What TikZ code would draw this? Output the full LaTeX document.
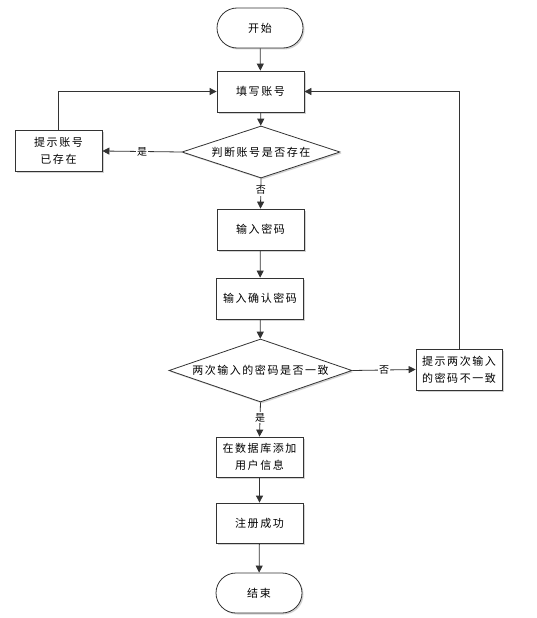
\documentclass[tikz,border=0pt]{standalone}
\usepackage{fontspec}
\newfontfamily\cjk[LetterSpace=14]{Noto Sans CJK SC}
\usetikzlibrary{shapes.geometric,arrows.meta,shadows}
\definecolor{ln}{HTML}{333333}
\tikzset{
  every node/.style={font=\cjk\fontsize{11pt}{17pt}\selectfont, text=black},
  base/.style={draw=ln, line width=0.8pt, fill=white, inner sep=0pt,
    drop shadow={shadow xshift=1.5pt, shadow yshift=-1.5pt, fill=gray!35, opacity=1}},
  procbox/.style={base, rectangle, minimum width=87pt, minimum height=41pt, align=center},
  termbox/.style={base, rectangle, rounded corners=20pt, minimum width=86pt, minimum height=40pt},
  decbox/.style={base, diamond, aspect=3},
  conn/.style={draw=ln, line width=0.8pt, -{Triangle[width=7pt,length=7pt]}},
  lbl/.style={fill=white, inner sep=1pt, font=\cjk\fontsize{10pt}{11pt}\selectfont}
}
\begin{document}
\begin{tikzpicture}[x=1pt,y=-1pt]
\useasboundingbox (0,0) rectangle (537,618);
\node[termbox] (start) at (260,28) {开始};
\node[procbox] (fill) at (260.5,91.5) {填写账号};
\node[decbox, minimum width=158pt, minimum height=52pt] (d1) at (261,152) {判断账号是否存在};
\node[procbox] (tip1) at (58.5,151) {提示账号\\已存在};
\node[procbox] (pwd) at (260.5,229.5) {输入密码};
\node[procbox] (conf) at (260,298.5) {输入确认密码};
\node[decbox, minimum width=183pt, minimum height=63pt] (d2) at (260.5,370.5) {两次输入的密码是否一致};
\node[procbox, minimum width=86pt] (tip2) at (459,369.5) {提示两次输入\\的密码不一致};
\node[procbox, minimum height=40pt] (db) at (259.5,457) {在数据库添加\\用户信息};
\node[procbox, minimum height=40pt] (ok) at (259.5,523) {注册成功};
\node[termbox] (end) at (259,593) {结束};

\draw[conn] (start) -- (fill);
\draw[conn] (fill) -- (d1);
\draw[conn] (d1.west) -- node[lbl, pos=0.5] (l1) {是} (tip1.east);
\draw[conn] (tip1.north) |- (fill.west);
\draw[conn] (d1.south) -- node[lbl, pos=0.4] (l2) {否} (pwd.north);
\draw[conn] (pwd) -- (conf);
\draw[conn] (conf) -- (d2);
\draw[conn] (d2.east) -- node[lbl, pos=0.5] (l3) {否} (tip2.west);
\draw[conn] (tip2.north) |- (fill.east);
\draw[conn] (d2.south) -- node[lbl, pos=0.45] (l4) {是} (db.north);
\draw[conn] (db) -- (ok);
\draw[conn] (ok) -- (end);
\end{tikzpicture}
\end{document}
